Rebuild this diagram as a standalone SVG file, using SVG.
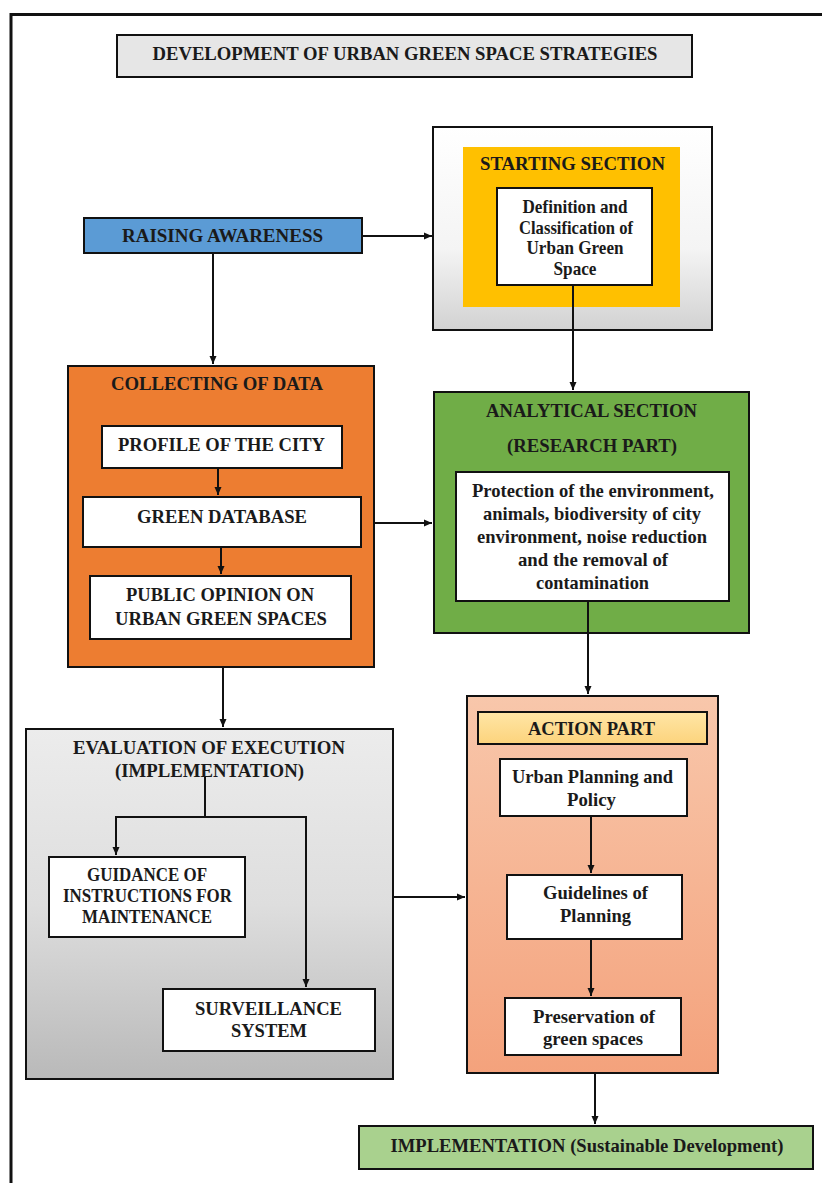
<svg xmlns="http://www.w3.org/2000/svg" width="822" height="1183" viewBox="0 0 822 1183">
<style>
.t{font-family:"Liberation Serif","Times New Roman",serif;font-weight:bold;font-size:19px;fill:#1a1a1a;text-anchor:middle}
.b{stroke:#111;stroke-width:2}
.w{fill:#fff;stroke:#111;stroke-width:2}
.c{fill:none;stroke:#111;stroke-width:2}
</style>
<defs>
<marker id="ah" markerUnits="userSpaceOnUse" markerWidth="9" markerHeight="9" refX="8" refY="4" orient="auto">
<path d="M0,0.5 L8,4 L0,7.5 z" fill="#111"/>
</marker>
<linearGradient id="gStart" x1="0" y1="0" x2="0" y2="1">
<stop offset="0" stop-color="#ffffff"/><stop offset="0.6" stop-color="#f4f4f4"/><stop offset="1" stop-color="#d2d2d2"/>
</linearGradient>
<linearGradient id="gEval" x1="0" y1="0" x2="0" y2="1">
<stop offset="0" stop-color="#ececec"/><stop offset="0.5" stop-color="#dedede"/><stop offset="1" stop-color="#b9b9b9"/>
</linearGradient>
<linearGradient id="gAct" x1="0" y1="0" x2="0" y2="1">
<stop offset="0" stop-color="#f8c7ab"/><stop offset="1" stop-color="#f4a27c"/>
</linearGradient>
<linearGradient id="gActT" x1="0" y1="0" x2="0" y2="1">
<stop offset="0" stop-color="#ffe6a6"/><stop offset="1" stop-color="#fcd37c"/>
</linearGradient>
</defs>

<path d="M11,1183 V14.5 H822" fill="none" stroke="#111" stroke-width="3"/>

<g id="title">
<rect x="117" y="35" width="575" height="42" fill="#e6e6e6" class="b"/>
<text class="t" x="405" y="60" textLength="505" lengthAdjust="spacingAndGlyphs">DEVELOPMENT OF URBAN GREEN SPACE STRATEGIES</text>
</g>

<g id="starting-section">
<rect x="433" y="127" width="279" height="203" fill="url(#gStart)" class="b"/>
<rect x="463" y="147" width="217" height="160" fill="#ffc000"/>
<text class="t" x="572.5" y="170" textLength="185" lengthAdjust="spacingAndGlyphs">STARTING SECTION</text>
</g>
<g id="definition">
<rect x="497" y="188" width="155" height="97" class="w"/>
<text class="t" x="575" y="213" textLength="105" lengthAdjust="spacingAndGlyphs">Definition and</text>
<text class="t" x="576" y="234" textLength="114" lengthAdjust="spacingAndGlyphs">Classification of</text>
<text class="t" x="575" y="254" textLength="97" lengthAdjust="spacingAndGlyphs">Urban Green</text>
<text class="t" x="575" y="275" textLength="43" lengthAdjust="spacingAndGlyphs">Space</text>
</g>

<g id="raising-awareness">
<rect x="84" y="218" width="278" height="35" fill="#5b9bd5" class="b"/>
<text class="t" x="222.5" y="242" textLength="201" lengthAdjust="spacingAndGlyphs">RAISING AWARENESS</text>
</g>

<g id="collecting-data">
<rect x="68" y="366" width="306" height="301" fill="#ed7d31" class="b"/>
<text class="t" x="217" y="390" textLength="212" lengthAdjust="spacingAndGlyphs">COLLECTING OF DATA</text>
</g>
<g id="profile">
<rect x="102" y="426" width="240" height="42" class="w"/>
<text class="t" x="221.5" y="451" textLength="207" lengthAdjust="spacingAndGlyphs">PROFILE OF THE CITY</text>
</g>
<g id="green-database">
<rect x="83" y="497" width="278" height="50" class="w"/>
<text class="t" x="222" y="523" textLength="170" lengthAdjust="spacingAndGlyphs">GREEN DATABASE</text>
</g>
<g id="public-opinion">
<rect x="90" y="576" width="261" height="63" class="w"/>
<text class="t" x="220" y="601" textLength="188" lengthAdjust="spacingAndGlyphs">PUBLIC OPINION ON</text>
<text class="t" x="221" y="625" textLength="212" lengthAdjust="spacingAndGlyphs">URBAN GREEN SPACES</text>
</g>

<g id="analytical-section">
<rect x="434" y="392" width="315" height="241" fill="#70ad47" class="b"/>
<text class="t" x="591.5" y="417" textLength="211" lengthAdjust="spacingAndGlyphs">ANALYTICAL SECTION</text>
<text class="t" x="592" y="452" textLength="170" lengthAdjust="spacingAndGlyphs">(RESEARCH PART)</text>
</g>
<g id="protection">
<rect x="456" y="472" width="273" height="129" class="w"/>
<text class="t" x="593" y="497" textLength="242" lengthAdjust="spacingAndGlyphs">Protection of the environment,</text>
<text class="t" x="592" y="520" textLength="218" lengthAdjust="spacingAndGlyphs">animals, biodiversity of city</text>
<text class="t" x="592" y="543" textLength="230" lengthAdjust="spacingAndGlyphs">environment, noise reduction</text>
<text class="t" x="593" y="566" textLength="150" lengthAdjust="spacingAndGlyphs">and the removal of</text>
<text class="t" x="592.5" y="589" textLength="113" lengthAdjust="spacingAndGlyphs">contamination</text>
</g>

<g id="evaluation">
<rect x="26" y="729" width="367" height="350" fill="url(#gEval)" class="b"/>
<text class="t" x="209" y="754" textLength="272" lengthAdjust="spacingAndGlyphs">EVALUATION OF EXECUTION</text>
<text class="t" x="209.5" y="777" textLength="189" lengthAdjust="spacingAndGlyphs">(IMPLEMENTATION)</text>
</g>
<g id="guidance">
<rect x="49" y="857" width="196" height="80" class="w"/>
<text class="t" x="147" y="881" textLength="120" lengthAdjust="spacingAndGlyphs">GUIDANCE OF</text>
<text class="t" x="147.5" y="902" textLength="169" lengthAdjust="spacingAndGlyphs">INSTRUCTIONS FOR</text>
<text class="t" x="147" y="923" textLength="130" lengthAdjust="spacingAndGlyphs">MAINTENANCE</text>
</g>
<g id="surveillance">
<rect x="163" y="989" width="212" height="62" class="w"/>
<text class="t" x="268.5" y="1015" textLength="147" lengthAdjust="spacingAndGlyphs">SURVEILLANCE</text>
<text class="t" x="269" y="1037" textLength="76" lengthAdjust="spacingAndGlyphs">SYSTEM</text>
</g>

<g id="action-part">
<rect x="467" y="696" width="251" height="377" fill="url(#gAct)" class="b"/>
<rect x="478" y="712" width="229" height="32" fill="url(#gActT)" class="b"/>
<text class="t" x="591.5" y="735" textLength="127" lengthAdjust="spacingAndGlyphs">ACTION PART</text>
</g>
<g id="urban-planning">
<rect x="500" y="759" width="187" height="57" class="w"/>
<text class="t" x="592.5" y="783" textLength="161" lengthAdjust="spacingAndGlyphs">Urban Planning and</text>
<text class="t" x="591.5" y="806" textLength="49" lengthAdjust="spacingAndGlyphs">Policy</text>
</g>
<g id="guidelines">
<rect x="507" y="875" width="175" height="64" class="w"/>
<text class="t" x="595.5" y="899" textLength="105" lengthAdjust="spacingAndGlyphs">Guidelines of</text>
<text class="t" x="595.5" y="922" textLength="71" lengthAdjust="spacingAndGlyphs">Planning</text>
</g>
<g id="preservation">
<rect x="505" y="998" width="176" height="57" class="w"/>
<text class="t" x="594" y="1023" textLength="122" lengthAdjust="spacingAndGlyphs">Preservation of</text>
<text class="t" x="593" y="1045" textLength="100" lengthAdjust="spacingAndGlyphs">green spaces</text>
</g>

<g id="implementation">
<rect x="359" y="1126" width="454" height="43" fill="#a9d18e" class="b"/>
<text class="t" x="587" y="1152" textLength="393" lengthAdjust="spacingAndGlyphs">IMPLEMENTATION (Sustainable Development)</text>
</g>

<g id="connectors">
<path class="c" d="M362,236 H432" marker-end="url(#ah)"/>
<path class="c" d="M213,253 V364" marker-end="url(#ah)"/>
<path class="c" d="M573,285 V390" marker-end="url(#ah)"/>
<path class="c" d="M218,468 V495" marker-end="url(#ah)"/>
<path class="c" d="M221,547 V574" marker-end="url(#ah)"/>
<path class="c" d="M374,523 H432" marker-end="url(#ah)"/>
<path class="c" d="M223,667 V727" marker-end="url(#ah)"/>
<path class="c" d="M588,601 V694" marker-end="url(#ah)"/>
<path class="c" d="M205,777 V817 H116 V855" marker-end="url(#ah)"/>
<path class="c" d="M205,817 H306 V987" marker-end="url(#ah)"/>
<path class="c" d="M393,897 H465" marker-end="url(#ah)"/>
<path class="c" d="M591,816 V873" marker-end="url(#ah)"/>
<path class="c" d="M591,939 V996" marker-end="url(#ah)"/>
<path class="c" d="M595,1073 V1124" marker-end="url(#ah)"/>
</g>
</svg>
